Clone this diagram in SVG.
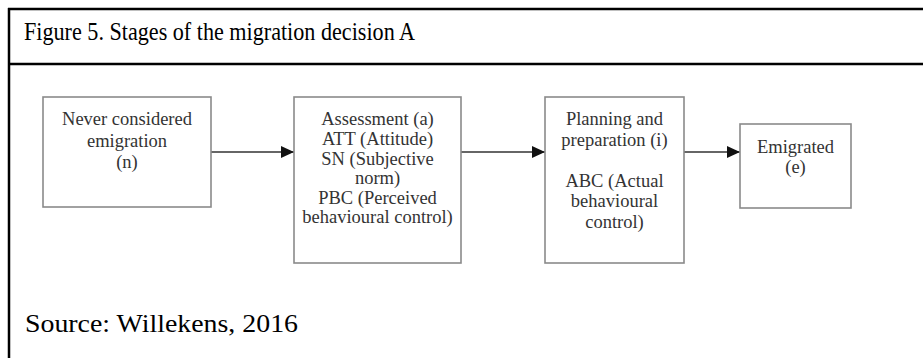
<svg xmlns="http://www.w3.org/2000/svg" width="923" height="358" viewBox="0 0 923 358">
<defs>
<style>
.frame{stroke:#000;stroke-width:2.5;fill:none}
.box{fill:#fff;stroke:#8a8a8a;stroke-width:1.6}
.t{font-family:"Liberation Serif","Times New Roman",serif;font-size:18.5px;fill:#333;text-anchor:middle}
.cap{font-family:"Liberation Serif","Times New Roman",serif;fill:#000}
.conn{stroke:#333;stroke-width:1.6;fill:none}
.shadow{stroke:#ccc;stroke-width:3;fill:none;filter:url(#blur)}
</style>
<filter id="blur" x="-10%" y="-200%" width="120%" height="500%"><feGaussianBlur stdDeviation="1.5"/></filter>
<marker id="ah" markerWidth="14" markerHeight="12" refX="13" refY="6" orient="auto" markerUnits="userSpaceOnUse">
<path d="M0,0 L13,6 L0,12 Z" fill="#111"/>
</marker>
</defs>
<rect width="923" height="358" fill="#fff"/>
<g id="frame">
<line class="frame" x1="8" y1="9" x2="923" y2="9"/>
<line class="frame" x1="8" y1="64" x2="923" y2="64"/>
<line class="frame" x1="9" y1="8" x2="9" y2="358"/>
</g>
<text class="cap" x="24" y="40" font-size="25" textLength="391" lengthAdjust="spacingAndGlyphs">Figure 5. Stages of the migration decision A</text>
<text class="cap" x="25" y="332" font-size="26" textLength="273" lengthAdjust="spacingAndGlyphs">Source: Willekens, 2016</text>
<g id="connectors">
<line class="shadow" x1="213" y1="156" x2="290" y2="156"/>
<line class="shadow" x1="463" y1="156" x2="541" y2="156"/>
<line class="shadow" x1="686" y1="156" x2="736" y2="156"/>
<line class="conn" x1="211" y1="152" x2="294" y2="152" marker-end="url(#ah)"/>
<line class="conn" x1="461" y1="152" x2="545" y2="152" marker-end="url(#ah)"/>
<line class="conn" x1="684" y1="152" x2="740" y2="152" marker-end="url(#ah)"/>
</g>
<g id="n1">
<rect class="box" x="43" y="97" width="168" height="110"/>
<text class="t" x="127" y="125">Never considered</text>
<text class="t" x="127" y="147">emigration</text>
<text class="t" x="127" y="168">(n)</text>
</g>
<g id="n2">
<rect class="box" x="294" y="97" width="167" height="166"/>
<text class="t" x="377.5" y="125">Assessment (a)</text>
<text class="t" x="377.5" y="145">ATT (Attitude)</text>
<text class="t" x="377.5" y="165">SN (Subjective</text>
<text class="t" x="377.5" y="184">norm)</text>
<text class="t" x="377.5" y="204">PBC (Perceived</text>
<text class="t" x="377.5" y="223">behavioural control)</text>
</g>
<g id="n3">
<rect class="box" x="545" y="97" width="139" height="166"/>
<text class="t" x="614.5" y="125">Planning and</text>
<text class="t" x="614.5" y="146">preparation (i)</text>
<text class="t" x="614.5" y="187">ABC (Actual</text>
<text class="t" x="614.5" y="207">behavioural</text>
<text class="t" x="614.5" y="228">control)</text>
</g>
<g id="n4">
<rect class="box" x="740" y="124" width="111" height="84"/>
<text class="t" x="795.5" y="153">Emigrated</text>
<text class="t" x="795.5" y="173">(e)</text>
</g>
</svg>
